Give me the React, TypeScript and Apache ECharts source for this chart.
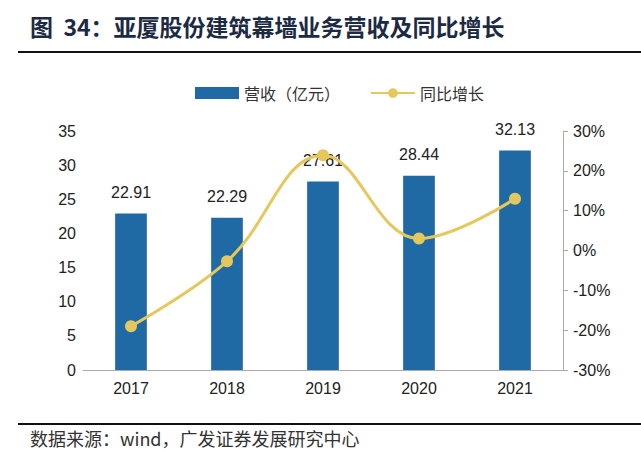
import React, { useEffect, useRef } from "react";
import * as echarts from "echarts";

const years = ["2017", "2018", "2019", "2020", "2021"];
const revenue = [22.91, 22.29, 27.61, 28.44, 32.13];
const growth = [-19.0, -2.7, 23.9, 3.0, 13.0];

export default function App() {
  const ref = useRef<HTMLDivElement>(null);
  useEffect(() => {
    document.body.style.margin = "0";
    const chart = echarts.init(ref.current!, null, { renderer: "svg" });
    const font = "Liberation Sans, Arial, sans-serif";
    const cjk = "'Noto Sans CJK SC', sans-serif";
    chart.setOption({
      animation: false,
      backgroundColor: "#fff",
      textStyle: { fontFamily: font },
      graphic: [
        {
          type: "text",
          left: 30,
          top: 14,
          style: {
            text: "图  34：亚厦股份建筑幕墙业务营收及同比增长",
            font: `bold 23px ${cjk}`,
            fill: "#1c2a44",
          },
        },
        { type: "line", shape: { x1: 18, y1: 52, x2: 641, y2: 52 }, style: { stroke: "#111", lineWidth: 2 } },
        { type: "line", shape: { x1: 18, y1: 424, x2: 641, y2: 424 }, style: { stroke: "#111", lineWidth: 2 } },
        {
          type: "text",
          left: 30,
          top: 429,
          style: {
            text: "数据来源：wind，广发证券发展研究中心",
            font: `18px ${cjk}`,
            fill: "#333",
          },
        },
      ],
      legend: {
        top: 80,
        left: 190,
        itemGap: 30,
        itemWidth: 44,
        itemHeight: 12,
        textStyle: { fontFamily: cjk, fontSize: 16, color: "#333" },
        data: [
          { name: "营收（亿元）", icon: "rect" },
          { name: "同比增长" },
        ],
      },
      grid: { left: 83, right: 78, top: 131, bottom: 96 },
      xAxis: {
        type: "category",
        data: years,
        axisLine: { lineStyle: { color: "#aaa" } },
        axisTick: { show: false },
        axisLabel: { color: "#222", fontSize: 16, margin: 10 },
      },
      yAxis: [
        {
          type: "value",
          min: 0,
          max: 35,
          interval: 5,
          splitLine: { show: false },
          axisLine: { show: false },
          axisTick: { show: false },
          axisLabel: { color: "#222", fontSize: 16, margin: 7 },
        },
        {
          type: "value",
          min: -30,
          max: 30,
          interval: 10,
          splitLine: { show: false },
          axisLine: { show: true, lineStyle: { color: "#aaa" } },
          axisTick: { show: true, length: 5, lineStyle: { color: "#aaa" } },
          axisLabel: { color: "#222", fontSize: 16, margin: 10, formatter: "{value}%" },
        },
      ],
      series: [
        {
          name: "营收（亿元）",
          type: "bar",
          data: revenue,
          barWidth: "33%",
          itemStyle: { color: "#1f6aa5" },
          label: {
            show: true,
            position: "top",
            distance: 13,
            color: "#222",
            fontSize: 16,
            formatter: (p: any) => p.value.toFixed(2),
          },
        },
        {
          name: "同比增长",
          type: "line",
          yAxisIndex: 1,
          data: growth,
          smooth: 0.4,
          symbol: "circle",
          symbolSize: 12,
          itemStyle: { color: "#e5c75c" },
          lineStyle: { color: "#e5c75c", width: 3 },
          z: 5,
        },
      ],
    });
    return () => chart.dispose();
  }, []);
  return <div ref={ref} style={{ width: 641, height: 466 }} />;
}
